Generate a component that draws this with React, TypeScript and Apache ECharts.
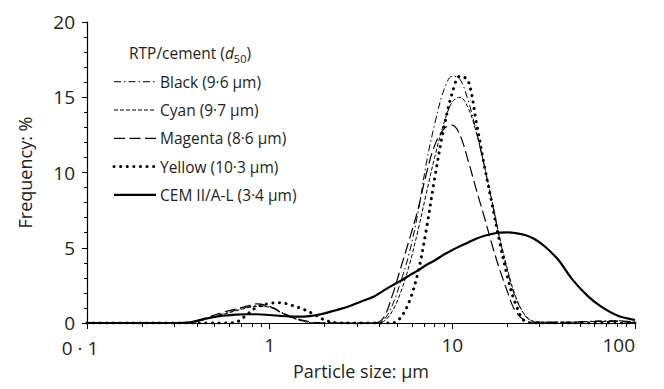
import React, { useEffect, useRef } from 'react';
import * as echarts from 'echarts';

// Particle size grid (µm)
const sizes = [0.1, 0.2, 0.3, 0.37, 0.45, 0.55, 0.65, 0.75, 0.85, 1.0, 1.15, 1.3, 1.5, 1.75, 2.0, 2.3, 2.7, 3.2, 3.7, 4.2, 4.7, 5.2, 5.8, 6.5, 7.2, 8.0, 9.0, 10, 11, 12.2, 13.5, 15, 16.5, 18, 20, 22, 25, 28, 32, 38, 45, 55, 65, 80, 100];

// Frequency (%) per series
const black = [0, 0, 0, 0.03, 0.3, 0.6, 0.85, 1.05, 1.15, 1.1, 0.75, 0.4, 0.15, 0, 0, 0, 0, 0, 0, 0.2, 1.2, 2.7, 4.6, 7.4, 10.6, 13.2, 15.5, 16.4, 16.2, 14.8, 12.8, 10.4, 8.0, 5.8, 3.5, 1.8, 0.5, 0.1, 0.05, 0.05, 0.05, 0.1, 0.15, 0.15, 0.05];
const cyan = [0, 0, 0, 0.03, 0.25, 0.55, 0.8, 1.0, 1.1, 1.05, 0.7, 0.4, 0.15, 0, 0, 0, 0, 0, 0, 0.1, 0.8, 2.0, 3.8, 6.2, 8.6, 11.0, 13.3, 14.7, 15.0, 14.3, 12.7, 10.4, 8.1, 5.9, 3.6, 1.9, 0.5, 0.1, 0.05, 0.05, 0.05, 0.1, 0.1, 0.15, 0.05];
const magenta = [0, 0, 0, 0.05, 0.35, 0.7, 0.92, 1.12, 1.27, 1.1, 0.72, 0.45, 0.2, 0.05, 0, 0, 0, 0, 0, 0.35, 1.85, 3.6, 5.5, 7.6, 9.9, 11.8, 12.9, 13.15, 12.5, 10.8, 8.9, 7.0, 5.2, 3.7, 2.1, 0.85, 0.15, 0.05, 0.05, 0.05, 0.05, 0.1, 0.1, 0.1, 0];
const yellow = [0, 0, 0, 0, 0, 0, 0.05, 0.55, 1.05, 1.3, 1.35, 1.2, 0.95, 0.58, 0.2, 0.02, 0, 0, 0, 0, 0, 0.35, 1.4, 3.4, 6.2, 9.6, 13.0, 15.3, 16.4, 16.1, 13.4, 10.4, 7.9, 5.6, 3.1, 1.4, 0.1, 0, 0, 0, 0, 0, 0, 0, 0];
const cem = [0, 0, 0, 0.05, 0.3, 0.48, 0.55, 0.58, 0.58, 0.53, 0.47, 0.43, 0.42, 0.5, 0.64, 0.85, 1.1, 1.45, 1.75, 2.15, 2.5, 2.8, 3.15, 3.5, 3.85, 4.15, 4.55, 4.85, 5.1, 5.35, 5.6, 5.8, 5.92, 6.0, 6.02, 5.98, 5.85, 5.6, 5.1, 4.2, 2.95, 1.8, 1.1, 0.5, 0.2];

const seriesNames = ['Black (9·6 µm)', 'Cyan (9·7 µm)', 'Magenta (8·6 µm)', 'Yellow (10·3 µm)', 'CEM II/A-L (3·4 µm)'];
const seriesData = [black, cyan, magenta, yellow, cem];
const minorXTicks = [0.2, 0.3, 0.4, 0.5, 0.6, 0.7, 0.8, 0.9, 2, 3, 4, 5, 6, 7, 8, 9, 20, 30, 40, 50, 60, 70, 80, 90];

// line styles
const lineStyles: { width: number; dash: number[] | null; cap: 'butt' | 'round' }[] = [
  { width: 1, dash: [7, 3, 1.5, 3], cap: 'butt' },
  { width: 1, dash: [4, 2], cap: 'butt' },
  { width: 1.2, dash: [11, 4.5], cap: 'butt' },
  { width: 3, dash: [0.1, 6.5], cap: 'round' },
  { width: 2.2, dash: null, cap: 'butt' },
];

const FONT = '"Open Sans", "Noto Sans", sans-serif';
const TXT = '#231f20';

export default function App() {
  const ref = useRef<HTMLDivElement>(null);
  useEffect(() => {
    const chart = echarts.init(ref.current!, null, { renderer: 'svg' });
    const pair = (ys: number[]) => sizes.map((s, i) => [s, ys[i]]);
    const gridTop = 22;
    const gridBottom = 66;
    const gridH = 389 - gridTop - gridBottom;

    // legend drawn as graphic (icon line + label)
    const legendX = 114;
    const legendY0 = 81.7;
    const legendStep = 28.3;
    const legendEls: any[] = [];
    seriesNames.forEach((name, i) => {
      const ls = lineStyles[i];
      const y = legendY0 + i * legendStep;
      legendEls.push({
        type: 'line',
        shape: { x1: legendX, y1: y, x2: legendX + 42, y2: y },
        style: { stroke: '#000', lineWidth: ls.width, lineDash: ls.dash || undefined, lineCap: ls.cap },
      });
      legendEls.push({
        type: 'text',
        x: legendX + 46,
        y,
        style: { text: name, fontSize: 15.5, fontFamily: FONT, fill: TXT, verticalAlign: 'middle', align: 'left' },
      });
    });

    chart.setOption({
      animation: false,
      textStyle: { fontFamily: FONT, color: TXT },
      grid: { left: 87, right: 29, top: gridTop, bottom: gridBottom, containLabel: false, outerBoundsMode: 'none' },
      title: {
        left: 124,
        top: 37,
        text: '{a|RTP/cement (}{i|d}{s|50}{a|)}',
        textStyle: {
          fontWeight: 'normal',
          rich: {
            a: { fontSize: 15.5, lineHeight: 22, color: TXT, fontFamily: FONT },
            i: { fontSize: 15.5, lineHeight: 22, fontStyle: 'italic', color: TXT, fontFamily: FONT },
            s: { fontSize: 11, lineHeight: 11, verticalAlign: 'bottom', color: TXT, fontFamily: FONT },
          },
        },
      },
      graphic: legendEls,
      xAxis: [
        {
          type: 'log',
          logBase: 10,
          min: 0.1,
          max: 100,
          name: 'Particle size: µm',
          nameLocation: 'middle',
          nameGap: 38,
          nameTextStyle: { fontSize: 18, color: TXT, fontFamily: FONT },
          axisLine: { lineStyle: { color: '#000', width: 1.2 } },
          axisTick: { show: true, length: 6, lineStyle: { color: '#000', width: 1 } },
          axisLabel: {
            fontSize: 19,
            lineHeight: 18,
            color: TXT,
            margin: 13,
            fontFamily: FONT,
            alignMaxLabel: 'right',
            formatter: (v: number) => {
              const s = String(+Number(v).toPrecision(6));
              return s.indexOf('.') >= 0 ? '{l|' + s.replace('.', ' · ') + '}' : s;
            },
            rich: {
              l: { fontSize: 19, lineHeight: 18, color: TXT, fontFamily: FONT, padding: [6, 14, 0, 0] },
            },
          },
          splitLine: { show: false },
        },
        {
          type: 'log',
          logBase: 10,
          min: 0.1,
          max: 100,
          position: 'top',
          offset: -gridH,
          axisLine: { show: false },
          axisLabel: { show: false },
          axisTick: { show: true, inside: true, length: 4, customValues: minorXTicks, lineStyle: { color: '#000', width: 1 } },
          splitLine: { show: false },
        },
      ],
      yAxis: {
        type: 'value',
        min: 0,
        max: 20,
        interval: 5,
        name: 'Frequency: %',
        nameLocation: 'middle',
        nameGap: 53,
        nameTextStyle: { fontSize: 18, color: TXT, fontFamily: FONT },
        axisLine: { show: true, lineStyle: { color: '#000', width: 1.2 } },
        axisTick: { show: true, length: 5, lineStyle: { color: '#000', width: 1 } },
        minorTick: { show: true, splitNumber: 5, length: 3, lineStyle: { color: '#000', width: 1 } },
        axisLabel: { fontSize: 19, lineHeight: 16, color: TXT, margin: 12, fontFamily: FONT },
        splitLine: { show: false },
      },
      series: seriesNames.map((name, i) => ({
        type: 'line',
        name,
        symbol: 'none',
        smooth: 0.35,
        xAxisIndex: 0,
        yAxisIndex: 0,
        data: pair(seriesData[i]),
        lineStyle: {
          color: '#000',
          width: lineStyles[i].width,
          type: lineStyles[i].dash || 'solid',
          cap: lineStyles[i].cap,
        },
        itemStyle: { color: '#000' },
      })),
    });
    return () => chart.dispose();
  }, []);
  return <div ref={ref} style={{ position: 'absolute', left: 0, top: 0, width: 664, height: 389, background: '#fff' }} />;
}
